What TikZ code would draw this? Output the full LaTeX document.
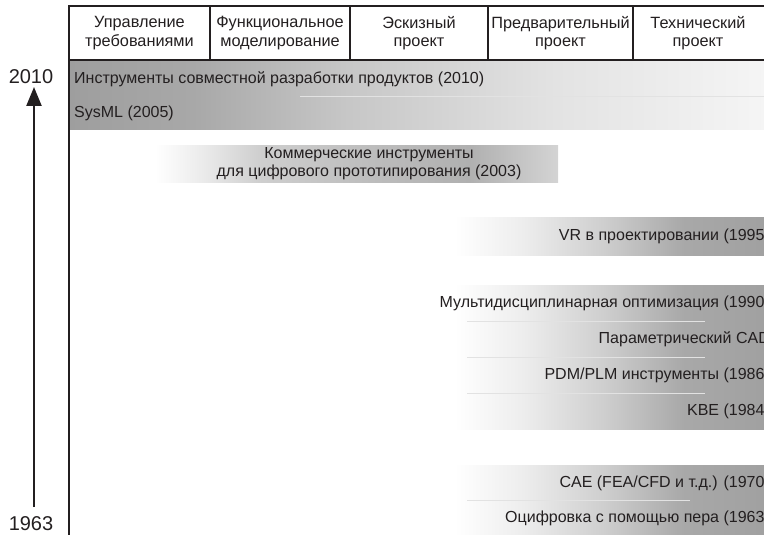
\documentclass[tikz,border=0pt]{standalone}
\usepackage{fontspec}
\setmainfont{Liberation Sans}
\usetikzlibrary{arrows.meta}

\definecolor{inkc}{HTML}{231F20}
\definecolor{sepc}{HTML}{E2E2E2}

% band running from dark (left) to pale (right)
\pgfdeclarehorizontalshading{faderight}{100bp}{%
  color(0bp)=(black!38); color(25bp)=(black!38);
  color(34bp)=(black!34); color(45bp)=(black!22);
  color(60bp)=(black!11); color(75bp)=(black!4); color(100bp)=(black!4)}
% band rising from white to grey and easing off at its right end
\pgfdeclarehorizontalshading{humpbar}{100bp}{%
  color(0bp)=(white); color(25bp)=(white);
  color(31bp)=(black!8); color(38bp)=(black!19);
  color(52bp)=(black!26); color(64bp)=(black!31);
  color(75bp)=(black!17); color(100bp)=(black!17)}
% band rising from white to grey toward the right edge
\pgfdeclarehorizontalshading{riseright}{100bp}{%
  color(0bp)=(white); color(25bp)=(white);
  color(36bp)=(black!7); color(49bp)=(black!19);
  color(62bp)=(black!34); color(75bp)=(black!37); color(100bp)=(black!37)}

\begin{document}
\begin{tikzpicture}[x=1pt,y=-1pt,
  font=\fontsize{16}{18}\selectfont,
  frame/.style={draw=inkc, line width=2.4pt},
  head/.style={align=center, inner sep=0pt, text=inkc, font=\fontsize{16.3}{18.5}\selectfont},
  lbl/.style={inner sep=0pt, text=inkc},
  sep/.style={draw=sepc, line width=0.8pt},
  year/.style={inner sep=0pt, text=inkc, font=\fontsize{20}{22}\selectfont}]
\useasboundingbox (0,0) rectangle (764,535);
\clip (0,0) rectangle (764,535);

% shaded bands
\shade[shading=faderight] (70,61) rectangle (764,130);
\shade[shading=humpbar] (155,145) rectangle (558,182);
\shade[shading=riseright] (455,217) rectangle (764,255);
\shade[shading=riseright] (455,285) rectangle (764,429);
\shade[shading=riseright] (455,465) rectangle (764,535);

% row separators
\draw[sep] (300,96) -- (764,96);
\foreach \yy in {321,357,393} \draw[sep] (467,\yy) -- (705,\yy);
\draw[sep] (467,500) -- (690,500);

% header with design stages
\draw[frame] (69,535) -- (69,6) -- (766,6) -- (766,60) -- (69,60);
\foreach \xx in {210,350,488,633} \draw[frame] (\xx,6) -- (\xx,60);
\node[head] (h1) at (139.5,33) {Управление\\требованиями};
\node[head] (h2) at (280,33) {Функциональное\\моделирование};
\node[head] (h3) at (419,33) {Эскизный\\проект};
\node[head] (h4) at (560.5,33) {Предварительный\\проект};
\node[head] (h5) at (698,33) {Технический\\проект};

% tools and methods
\node[lbl, anchor=west] (t1) at (74,79) {Инструменты совместной разработки продуктов (2010)};
\node[lbl, anchor=west] (t2) at (74,113) {SysML (2005)};
\node[lbl, align=center] (t3) at (369,164) {Коммерческие инструменты\\для цифрового прототипирования (2003)};
\node[lbl, anchor=east] (t4) at (770,236) {VR в проектировании (1995)};
\node[lbl, anchor=east] (t5) at (770,303) {Мультидисциплинарная оптимизация (1990)};
\node[lbl, anchor=east] (t6) at (770,339) {Параметрический CAD};
\node[lbl, anchor=east] (t7) at (770,375) {PDM/PLM инструменты (1986)};
\node[lbl, anchor=east] (t8) at (770,411) {KBE (1984)};
\node[lbl, anchor=east] (t9) at (770,483) {CAE (FEA/CFD и т.д.) (1970)};
\node[lbl, anchor=east] (t10) at (770,518) {Оцифровка с помощью пера (1963)};

% time axis
\node[year] (ytop) at (31,77) {2010};
\node[year] (ybot) at (31,524) {1963};
\coordinate (axlow) at (34,507);
\coordinate (axhigh) at (34,87);
\draw[draw=inkc, line width=2.4pt, -{Triangle[length=19pt,width=15pt]}] (axlow) -- (axhigh);
\end{tikzpicture}
\end{document}
